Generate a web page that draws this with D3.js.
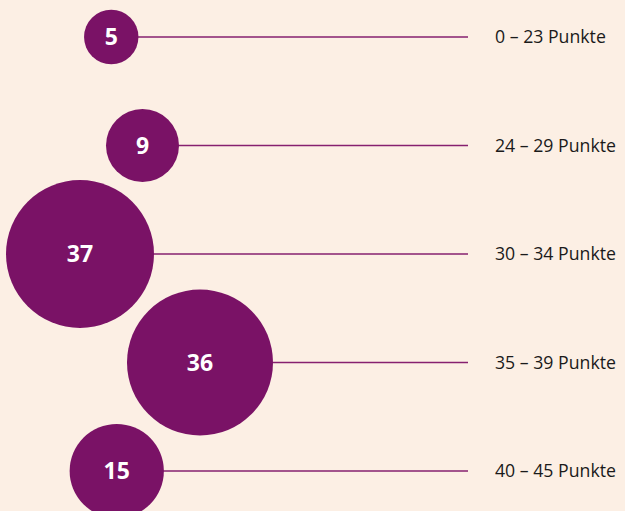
<!DOCTYPE html>
<html>
<head>
<meta charset="utf-8">
<script src="https://cdn.jsdelivr.net/npm/d3@7"></script>
<style>
  html, body { margin: 0; padding: 0; background: #fcefe4; }
  svg { display: block; }
</style>
</head>
<body>
<div id="chart"></div>
<script>
// point bands and how many in each
const categories = ['0 – 23 Punkte', '24 – 29 Punkte', '30 – 34 Punkte', '35 – 39 Punkte', '40 – 45 Punkte'];
const counts = [5, 9, 37, 36, 15];
// horizontal placement of each bubble, 0–100 across the bubble area
const spread = [44.5, 57, 32, 80, 46.7];

const width = 625;
const height = 511;
const purple = '#7a1266';

const svg = d3.select('#chart')
    .append('svg')
    .attr('width', width)
    .attr('height', height)
    .attr('viewBox', `0 0 ${width} ${height}`);

svg.append('rect')
    .attr('width', width)
    .attr('height', height)
    .attr('fill', '#fcefe4');

const y = d3.scalePoint()
    .domain(categories)
    .range([37, 471]);

const x = d3.scaleLinear()
    .domain([0, 100])
    .range([0, 250]);

const r = d3.scaleSqrt()
    .domain([0, 37])
    .range([0, 74]);

const rows = categories.map((c, i) => ({ cat: c, value: counts[i], pos: spread[i] }));

// connector lines, drawn first so the bubbles sit on top
svg.selectAll('.connector')
    .data(rows)
    .join('line')
    .attr('class', 'connector')
    .attr('x1', d => x(d.pos))
    .attr('x2', 468)
    .attr('y1', d => y(d.cat))
    .attr('y2', d => y(d.cat))
    .attr('stroke', '#86206f')
    .attr('stroke-width', 1.4);

svg.selectAll('.bubble')
    .data(rows)
    .join('circle')
    .attr('class', 'bubble')
    .attr('cx', d => x(d.pos))
    .attr('cy', d => y(d.cat))
    .attr('r', d => r(d.value))
    .attr('fill', purple);

svg.selectAll('.value')
    .data(rows)
    .join('text')
    .attr('class', 'value')
    .attr('x', d => x(d.pos))
    .attr('y', d => y(d.cat))
    .attr('dy', '0.36em')
    .attr('text-anchor', 'middle')
    .attr('fill', '#ffffff')
    .attr('font-family', '"Open Sans", sans-serif')
    .attr('font-weight', 700)
    .attr('font-size', 23)
    .text(d => d.value);

svg.selectAll('.label')
    .data(rows)
    .join('text')
    .attr('class', 'label')
    .attr('x', 495)
    .attr('y', d => y(d.cat))
    .attr('dy', '0.36em')
    .attr('fill', '#1a1a1a')
    .attr('font-family', '"Open Sans", sans-serif')
    .attr('font-size', 17.7)
    .text(d => d.cat);
</script>
</body>
</html>
